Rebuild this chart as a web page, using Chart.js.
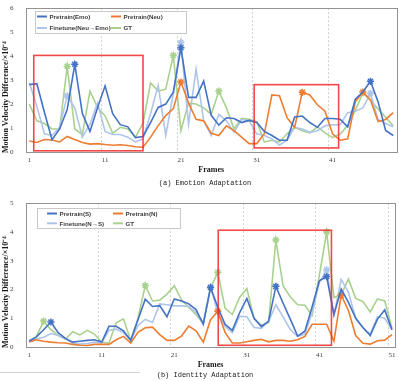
<!DOCTYPE html>
<html>
<head>
<meta charset="utf-8">
<script src="https://cdn.jsdelivr.net/npm/chart.js"></script>
<style>
  html, body { margin: 0; padding: 0; background: #fff; }
  #page { position: relative; width: 399px; height: 381px; overflow: hidden; background: #fff; }
  #page canvas { position: absolute; left: 0; }
  #chartA { top: 0; }
  #chartB { top: 195px; }
  .caption { position: absolute; left: 0; width: 410px; text-align: center; line-height: 8px;
             font-family: "Liberation Mono", "DejaVu Sans Mono", monospace; font-size: 7px; color: #1a1a1a; white-space: nowrap; }
  #capA { top: 179px; }
  #capB { top: 371px; }
  #rule { position: absolute; left: 0; top: 372px; width: 140px; height: 1px; background: #d4d4d4; }
</style>
</head>
<body>
<div id="page">
  <canvas id="chartA" width="399" height="184"></canvas>
  <canvas id="chartB" width="399" height="184"></canvas>
  <div id="rule"></div>
  <div class="caption" id="capA">(a) Emotion Adaptation</div>
  <div class="caption" id="capB">(b) Identity Adaptation</div>
</div>
<script>
// frame labels
const framesA = Array.from({ length: 49 }, (_, i) => String(i + 1));
const framesB = Array.from({ length: 51 }, (_, i) => String(i + 1));

// (a) Emotion Adaptation
const emoPretrainEmo = [2.81, 2.85, 1.65, 0.51, 0.96, 1.77, 3.66, 1.6, 0.86, 1.85,
  2.76, 1.6, 1.14, 1.05, 0.6, 0.65, 1.23, 1.86, 2.0, 2.5,
  4.35, 2.28, 2.28, 2.96, 1.53, 1.12, 1.43, 1.4, 1.23, 1.32,
  1.23, 0.86, 0.69, 0.49, 0.49, 1.46, 1.5, 1.23, 1.03, 1.4,
  1.4, 1.37, 1.05, 2.2, 2.5, 2.95, 2.1, 0.9, 0.69];
const emoPretrainNeu = [0.46, 0.4, 0.52, 0.5, 0.42, 0.65, 0.52, 0.4, 0.33, 0.35,
  0.31, 0.28, 0.3, 0.27, 0.22, 0.2, 0.62, 1.1, 1.52, 1.81,
  2.92, 2.05, 1.36, 1.3, 0.78, 0.69, 1.09, 0.89, 0.62, 0.35,
  0.35, 0.76, 2.38, 2.35, 1.43, 1.03, 2.49, 2.38, 1.97, 1.7,
  0.76, 0.49, 0.55, 2.1, 2.5, 2.18, 1.27, 1.36, 1.64];
const emoFinetune = [2.9, 1.9, 0.76, 0.69, 1.03, 2.34, 1.84, 0.62, 1.16, 2.05,
  0.86, 0.73, 0.73, 0.62, 0.42, 0.55, 1.6, 2.78, 0.69, 2.45,
  4.57, 1.16, 3.46, 1.3, 0.69, 1.57, 1.3, 0.82, 1.36, 1.3,
  0.76, 0.69, 0.55, 0.28, 0.49, 1.03, 0.96, 0.82, 0.89, 1.09,
  1.14, 1.14, 1.64, 1.7, 1.84, 2.45, 1.36, 1.19, 1.05];
const emoGT = [2.0, 1.3, 1.19, 0.96, 0.96, 3.57, 0.96, 0.73, 2.54, 1.86,
  1.5, 0.78, 1.03, 0.96, 0.62, 1.2, 2.88, 2.54, 2.62, 4.03,
  0.89, 2.04, 2.0, 1.84, 1.57, 2.54, 1.84, 0.96, 1.4, 1.36,
  1.27, 0.42, 0.49, 0.42, 0.76, 1.03, 0.89, 0.8, 1.05, 0.8,
  0.6, 0.75, 1.1, 1.75, 2.45, 2.15, 1.8, 1.45, 1.09];

// (b) Identity Adaptation
const idPretrainS = [0.2, 0.35, 0.6, 0.87, 0.5, 0.3, 0.17, 0.2, 0.23, 0.25,
  0.17, 0.72, 0.72, 0.56, 0.23, 0.95, 1.66, 1.41, 1.44, 1.05,
  1.67, 1.6, 1.5, 1.3, 0.79, 2.07, 1.38, 0.79, 0.58, 1.19,
  1.69, 1.0, 0.71, 0.9, 2.11, 1.52, 0.96, 0.38, 0.55, 1.4,
  2.3, 2.45, 1.13, 2.01, 1.55, 1.0, 0.68, 0.4, 0.97, 1.29, 0.6];
const idPretrainN = [0.17, 0.25, 0.2, 0.17, 0.15, 0.14, 0.09, 0.06, 0.05, 0.09,
  0.09, 0.09, 0.25, 0.37, 0.14, 0.51, 0.67, 0.69, 0.43, 0.23,
  0.23, 0.38, 0.73, 0.56, 0.17, 0.95, 1.24, 0.51, 0.14, 0.14,
  0.18, 0.23, 0.27, 0.18, 0.23, 0.23, 0.2, 0.25, 0.37, 0.79,
  0.79, 0.79, 0.2, 1.8, 1.27, 0.4, 0.13, 0.1, 0.22, 0.24, 0.43];
const idFinetune = [0.23, 0.28, 0.34, 0.47, 0.4, 0.28, 0.12, 0.1, 0.12, 0.17,
  0.14, 0.58, 0.62, 0.5, 0.23, 0.75, 0.96, 0.85, 1.5, 1.47,
  1.43, 1.43, 1.41, 1.2, 0.85, 2.09, 1.19, 0.72, 0.5, 1.07,
  1.05, 0.68, 0.65, 0.89, 1.47, 1.05, 0.6, 0.37, 0.45, 1.2,
  2.26, 2.68, 1.1, 2.35, 1.9, 1.0, 0.66, 0.46, 1.05, 1.0, 0.6];
const idGT = [0.22, 0.36, 0.9, 0.6, 0.41, 0.27, 0.53, 0.42, 0.58, 0.45,
  0.16, 0.14, 0.84, 0.98, 0.23, 1.0, 2.14, 1.6, 1.63, 1.84,
  2.13, 1.64, 1.38, 1.12, 0.82, 2.05, 2.6, 1.35, 1.13, 1.72,
  2.03, 0.98, 0.76, 0.85, 3.72, 2.12, 1.74, 1.47, 1.45, 1.1,
  2.5, 4.0, 1.72, 1.82, 2.36, 1.69, 1.58, 1.22, 1.67, 1.6, 0.65];

// frames (0-based) that carry a star marker
const starsA = { emo: [6, 20, 45], neu: [20, 36, 44], fine: [5, 20, 45], gt: [5, 19, 25] };
const starsB = { s: [3, 25, 34, 41], n: [26, 43], fine: [25, 41], gt: [2, 16, 26, 34, 41] };

const BLUE = "#4472C4", ORANGE = "#ED7D31", LIGHT = "#AEC5EA", GREEN = "#A9D18E";
const tickFont = { family: '"Liberation Serif", serif', size: 7 };
const Y_TITLE = "Motion Velocity Difference/\u00d710\u207b\u2074";

// frame box, red highlight boxes, boxed legend, y title
const decor = {
    id: "decor",
    beforeDatasetsDraw(chart) {
        const a = chart.chartArea, ctx = chart.ctx;
        ctx.save();
        ctx.strokeStyle = "#929292";
        ctx.lineWidth = 1;
        ctx.strokeRect(Math.round(a.left) + 0.5, Math.round(a.top) + 0.5,
            Math.round(a.right - a.left) - 1, Math.round(a.bottom - a.top));
        ctx.restore();
    },
    afterDatasetsDraw(chart, args, opts) {
        const ctx = chart.ctx, x = chart.scales.x, y = chart.scales.y;
        ctx.save();
        ctx.strokeStyle = "rgba(240, 40, 40, 0.85)";
        ctx.lineWidth = 1.6;
        for (const b of opts.boxes) {
            const x1 = x.getPixelForValue(b[0]), x2 = x.getPixelForValue(b[1]);
            const y1 = y.getPixelForValue(b[2]), y2 = y.getPixelForValue(b[3]);
            ctx.strokeRect(x1, y1, x2 - x1, y2 - y1);
        }
        ctx.restore();
    },
    afterDraw(chart, args, opts) {
        const ctx = chart.ctx, lg = opts.legend;
        ctx.save();
        ctx.fillStyle = "#fff";
        ctx.fillRect(lg.x, lg.y, lg.w, lg.h);
        ctx.strokeStyle = "#c8c8c8";
        ctx.lineWidth = 1;
        ctx.strokeRect(lg.x + 0.5, lg.y + 0.5, lg.w, lg.h);
        ctx.font = 'bold 6.2px "Liberation Sans", Arial, sans-serif';
        ctx.textBaseline = "middle";
        chart.data.datasets.forEach((ds, i) => {
            const sx = lg.cols[i % 2], sy = lg.rows[Math.floor(i / 2)];
            ctx.strokeStyle = ds.borderColor;
            ctx.lineWidth = 2;
            ctx.beginPath();
            ctx.moveTo(sx, sy);
            ctx.lineTo(sx + 10, sy);
            ctx.stroke();
            ctx.fillStyle = "#404040";
            ctx.fillText(ds.label, sx + 12.5, sy + 0.5);
        });
        // y axis title
        ctx.translate(6, chart.chartArea.top + 89);
        ctx.rotate(-Math.PI / 2);
        ctx.font = 'bold 8px "Liberation Serif", serif';
        ctx.textAlign = "center";
        ctx.fillStyle = "#1a1a1a";
        ctx.fillText(Y_TITLE, 0, 0);
        ctx.restore();
    }
};

function makeSet(label, data, color, stars) {
    return {
        label: label,
        data: data,
        borderColor: color,
        backgroundColor: color,
        borderWidth: 1.6,
        tension: 0,
        pointStyle: "star",
        pointBorderColor: color,
        pointBorderWidth: 1.5,
        pointRadius: (c) => stars.includes(c.dataIndex) ? 3.6 : 0,
        pointHoverRadius: 0
    };
}

function createChart(id, labels, datasets, yMax, decorOpts) {
    return new Chart(document.getElementById(id), {
        type: "line",
        data: { labels: labels, datasets: datasets },
        plugins: [decor],
        options: {
            responsive: false,
            animation: false,
            layout: { padding: { top: 4, right: 2, left: 0, bottom: 0 } },
            plugins: {
                legend: { display: false },
                tooltip: { enabled: false },
                decor: decorOpts
            },
            scales: {
                x: {
                    offset: true,
                    grid: {
                        offset: true,
                        drawTicks: false,
                        lineWidth: 1,
                        color: (c) => (c.index % 10 === 0 && c.index > 0) ? "#cfcfcf" : "rgba(0,0,0,0)"
                    },
                    border: { display: false, dash: [2, 2] },
                    ticks: {
                        autoSkip: false,
                        maxRotation: 0,
                        padding: 3.5,
                        font: tickFont,
                        color: "#404040",
                        callback: (v, i) => i % 10 === 0 ? labels[i] : ""
                    },
                    title: {
                        display: true,
                        text: "Frames",
                        color: "#1a1a1a",
                        font: { family: '"Liberation Serif", serif', size: 8, weight: "bold" },
                        padding: { top: 0, bottom: 9 }
                    },
                    afterFit: (s) => { s.height = 32; }
                },
                y: {
                    min: 0,
                    max: yMax,
                    grid: { display: false },
                    border: { display: false },
                    ticks: { stepSize: 1, padding: 4, font: tickFont, color: "#404040" },
                    afterFit: (s) => { s.width = 25.5; }
                }
            }
        }
    });
}

createChart("chartA", framesA, [
    makeSet("Pretrain(Emo)", emoPretrainEmo, BLUE, starsA.emo),
    makeSet("Pretrain(Neu)", emoPretrainNeu, ORANGE, starsA.neu),
    makeSet("Finetune(Neu\u2192Emo)", emoFinetune, LIGHT, starsA.fine),
    makeSet("GT", emoGT, GREEN, starsA.gt)
], 6, {
    boxes: [[0.59, 15.0, 4.03, 0.05], [29.66, 40.8, 2.81, 0.17]],
    legend: { x: 35, y: 11, w: 151, h: 22, cols: [37, 111], rows: [16.5, 28] }
});

createChart("chartB", framesB, [
    makeSet("Pretrain(S)", idPretrainS, BLUE, starsB.s),
    makeSet("Pretrain(N)", idPretrainN, ORANGE, starsB.n),
    makeSet("Finetune(N\u2192S)", idFinetune, LIGHT, starsB.fine),
    makeSet("GT", idGT, GREEN, starsB.gt)
], 5, {
    boxes: [[26.06, 41.66, 4.06, 0.06]],
    legend: { x: 37, y: 13, w: 143, h: 20, cols: [47, 113], rows: [18.5, 28.3] }
});
</script>
</body>
</html>
